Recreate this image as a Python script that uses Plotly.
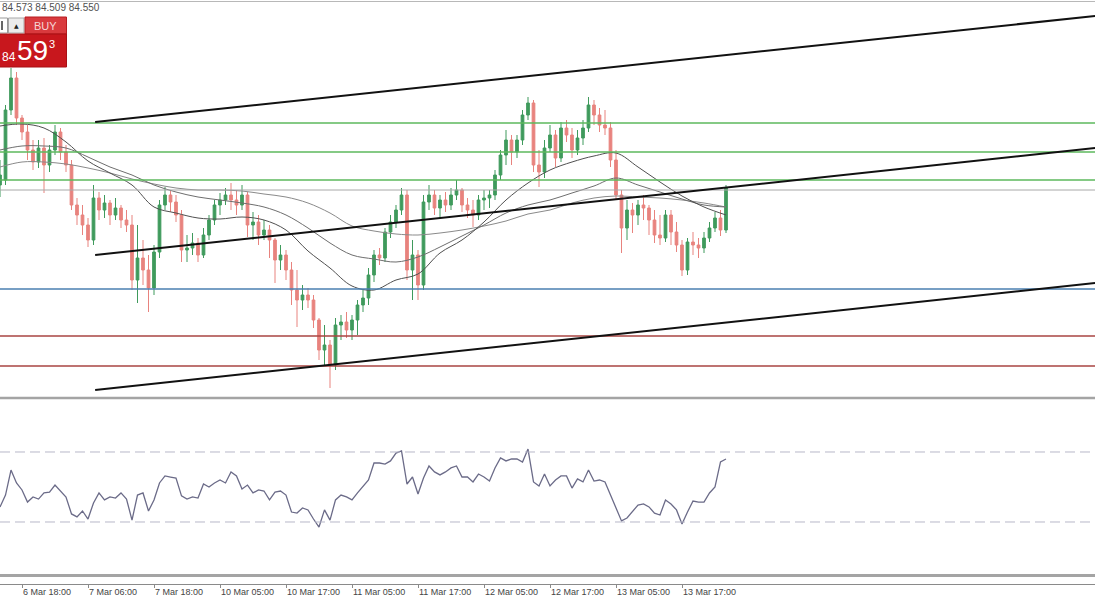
import plotly.graph_objects as go

# ---------------- data ----------------
bars = list(range(133))

opens = [84.60, 84.65, 85.35, 85.67, 85.27, 85.13, 84.95, 84.83, 84.97, 84.80,
         84.95, 85.13, 84.93, 84.80, 84.40, 84.30, 84.20, 84.05, 84.47, 84.35,
         84.42, 84.30, 84.37, 84.25, 84.20, 83.65, 83.87, 83.75, 83.57, 83.93,
         84.40, 84.50, 84.43, 84.30, 83.95, 83.97, 84.02, 83.90, 84.10, 84.25,
         84.40, 84.45, 84.50, 84.45, 84.40, 84.50, 84.20, 84.23, 84.10, 84.15,
         84.05, 83.85, 83.90, 83.75, 83.55, 83.45, 83.50, 83.45, 83.25, 82.95,
         83.00, 82.80, 83.20, 83.23, 83.15, 83.25, 83.40, 83.47, 83.70, 83.90,
         83.87, 84.13, 84.23, 84.35, 84.50, 83.75, 83.90, 83.60, 84.43, 84.50,
         84.37, 84.45, 84.40, 84.50, 84.55, 84.40, 84.35, 84.30, 84.45, 84.47,
         84.50, 84.70, 84.90, 85.05, 84.93, 85.05, 85.30, 85.42, 84.80, 84.73,
         84.97, 85.10, 84.87, 85.17, 85.10, 84.95, 85.07, 85.17, 85.40, 85.30,
         85.20, 85.17, 84.85, 84.50, 84.17, 84.35, 84.30, 84.40, 84.37, 84.25,
         84.10, 84.07, 84.30, 84.13, 84.00, 83.75, 84.03, 84.00, 83.97, 84.07,
         84.17, 84.27, 84.15]
highs = [84.85, 85.40, 85.77, 85.73, 85.30, 85.20, 85.05, 85.05, 85.07, 85.00,
         85.20, 85.17, 85.00, 84.85, 84.47, 84.40, 84.27, 84.60, 84.53, 84.50,
         84.45, 84.47, 84.40, 84.35, 84.30, 84.20, 84.05, 83.90, 84.00, 84.45,
         84.58, 84.55, 84.50, 84.35, 84.10, 84.12, 84.07, 84.17, 84.30, 84.45,
         84.52, 84.57, 84.62, 84.55, 84.60, 84.53, 84.33, 84.30, 84.25, 84.20,
         84.07, 84.00, 83.95, 83.83, 83.75, 83.60, 83.57, 83.50, 83.27, 83.20,
         83.05, 83.27, 83.30, 83.33, 83.30, 83.45, 83.55, 83.77, 83.95, 83.97,
         84.17, 84.30, 84.40, 84.57, 84.55, 84.05, 83.95, 84.50, 84.60, 84.55,
         84.50, 84.53, 84.57, 84.65, 84.57, 84.47, 84.45, 84.50, 84.55, 84.55,
         84.75, 84.95, 85.15, 85.10, 85.10, 85.35, 85.48, 85.45, 84.95, 85.05,
         85.20, 85.15, 85.23, 85.25, 85.17, 85.15, 85.25, 85.48, 85.45, 85.37,
         85.35, 85.23, 84.95, 84.55, 84.45, 84.42, 84.45, 84.50, 84.40, 84.35,
         84.30, 84.35, 84.35, 84.23, 84.05, 84.07, 84.13, 84.07, 84.13, 84.23,
         84.33, 84.35, 84.60]
lows = [84.48, 84.60, 85.30, 85.20, 85.05, 84.85, 84.75, 84.77, 84.52, 84.73,
        84.90, 84.85, 84.73, 84.35, 84.20, 84.10, 83.98, 84.00, 84.25, 84.27,
        84.20, 84.25, 84.17, 84.13, 83.55, 83.42, 83.60, 83.33, 83.50, 83.87,
        84.35, 84.33, 84.23, 83.83, 83.83, 83.90, 83.83, 83.87, 84.05, 84.20,
        84.30, 84.40, 84.35, 84.30, 84.35, 84.08, 84.05, 84.00, 84.05, 83.87,
        83.62, 83.75, 83.65, 83.40, 83.18, 83.35, 83.37, 83.17, 82.85, 82.80,
        82.57, 82.75, 83.05, 83.07, 83.05, 83.10, 83.33, 83.40, 83.63, 83.80,
        83.83, 84.07, 84.17, 84.30, 83.65, 83.45, 83.45, 83.55, 84.35, 84.30,
        84.27, 84.33, 84.35, 84.45, 84.33, 84.27, 84.18, 84.25, 84.35, 84.37,
        84.45, 84.65, 84.80, 84.80, 84.87, 85.00, 85.25, 84.73, 84.58, 84.67,
        84.93, 84.78, 84.83, 85.03, 84.87, 84.90, 85.00, 85.13, 85.20, 85.13,
        85.10, 84.78, 84.45, 83.92, 84.05, 84.12, 84.20, 84.25, 84.10, 84.02,
        84.00, 84.03, 84.00, 83.93, 83.69, 83.70, 83.90, 83.87, 83.92, 84.03,
        84.13, 84.09, 84.12]
closes = [84.70, 85.35, 85.67, 85.27, 85.13, 84.95, 84.83, 84.97, 84.80, 84.95,
          85.13, 84.93, 84.80, 84.40, 84.30, 84.20, 84.05, 84.47, 84.35, 84.42,
          84.30, 84.37, 84.25, 84.20, 83.65, 83.87, 83.75, 83.57, 83.93, 84.40,
          84.50, 84.43, 84.30, 83.95, 83.97, 84.02, 83.90, 84.10, 84.25, 84.40,
          84.45, 84.50, 84.45, 84.40, 84.50, 84.20, 84.23, 84.10, 84.15, 84.05,
          83.85, 83.90, 83.75, 83.55, 83.45, 83.50, 83.45, 83.25, 82.95, 83.00,
          82.80, 83.20, 83.23, 83.15, 83.25, 83.40, 83.47, 83.70, 83.90, 83.87,
          84.13, 84.23, 84.35, 84.50, 83.75, 83.90, 83.60, 84.43, 84.50, 84.37,
          84.45, 84.40, 84.50, 84.55, 84.40, 84.35, 84.30, 84.45, 84.47, 84.50,
          84.70, 84.90, 85.05, 84.93, 85.05, 85.30, 85.42, 84.80, 84.73, 84.97,
          85.10, 84.87, 85.17, 85.10, 84.95, 85.07, 85.17, 85.40, 85.30, 85.20,
          85.17, 84.85, 84.50, 84.17, 84.35, 84.30, 84.40, 84.37, 84.25, 84.10,
          84.07, 84.30, 84.13, 84.00, 83.75, 84.03, 84.00, 83.97, 84.07, 84.17,
          84.27, 84.15, 84.57]

ma_bars = list(range(0, 133, 4))
ma_fast = [85.19, 85.21, 85.17, 85.03, 84.84, 84.72, 84.60, 84.38, 84.32, 84.27,
           84.26, 84.28, 84.25, 84.15, 83.94, 83.77, 83.59, 83.55, 83.65, 83.71,
           83.92, 84.05, 84.23, 84.45, 84.62, 84.75, 84.83, 84.89, 84.92, 84.78,
           84.63, 84.49, 84.38, 84.30]
ma_mid = [84.95, 84.99, 84.99, 84.97, 84.88, 84.78, 84.70, 84.60, 84.53, 84.48,
          84.45, 84.42, 84.38, 84.30, 84.17, 84.02, 83.90, 83.86, 83.83, 83.88,
          83.98, 84.09, 84.20, 84.32, 84.40, 84.45, 84.52, 84.59, 84.67, 84.60,
          84.53, 84.46, 84.40, 84.38]
ma_slow = [84.78, 84.83, 84.83, 84.81, 84.77, 84.72, 84.66, 84.61, 84.57, 84.55,
           84.55, 84.54, 84.51, 84.48, 84.42, 84.32, 84.19, 84.14, 84.11, 84.10,
           84.12, 84.15, 84.19, 84.24, 84.31, 84.35, 84.42, 84.47, 84.49, 84.48,
           84.47, 84.45, 84.42, 84.38]

rsi = [38.6, 45.4, 59.7, 52.3, 48.3, 41.4, 44.3, 43.1, 46.6, 47.1,
       51.1, 47.7, 44.3, 34.6, 32.9, 36.3, 31.7, 40.9, 46.6, 42.6,
       44.3, 43.7, 46.6, 43.1, 31.1, 45.4, 46.6, 36.3, 42.6, 52.3,
       56.3, 55.7, 55.1, 44.9, 43.1, 44.3, 43.7, 51.7, 50.0, 52.3,
       54.0, 52.3, 58.6, 56.3, 48.9, 51.1, 46.6, 48.3, 47.7, 42.6,
       47.1, 47.7, 45.4, 35.7, 35.1, 38.0, 36.9, 31.7, 27.1, 36.9,
       31.1, 42.6, 45.4, 44.3, 42.6, 46.6, 50.0, 54.0, 63.7, 63.7,
       63.1, 64.9, 69.4, 70.6, 51.7, 55.7, 46.0, 55.1, 62.0, 58.6,
       56.9, 58.6, 60.9, 62.0, 55.7, 55.7, 52.9, 57.4, 55.7, 53.4,
       60.9, 66.6, 64.9, 66.0, 66.0, 64.3, 71.7, 52.9, 50.6, 57.4,
       50.6, 54.0, 56.3, 56.3, 49.4, 54.6, 52.9, 59.7, 53.4, 54.0,
       52.9, 45.4, 38.0, 30.6, 32.3, 35.7, 39.7, 40.3, 38.6, 35.1,
       34.0, 42.6, 40.3, 36.9, 28.9, 35.7, 42.0, 41.4, 41.4, 46.6,
       50.0, 64.3, 66.0]
rsi_levels = [70, 30]

green_levels = [85.22, 84.93, 84.65]
grey_levels = [84.55]
blue_levels = [83.56]
red_levels = [83.09, 82.79]

# trendlines: (start bar, start price, end bar, end price)
trend_start_bar = 17.3
trend_end_bar = 199.1
trend_start = [85.23, 83.90, 82.55]
trend_end = [86.29, 84.97, 83.62]

tick_bars = [4, 16, 28, 40, 52, 64, 76, 88, 100, 112, 124]
tick_labels = ["6 Mar 18:00", "7 Mar 06:00", "7 Mar 18:00", "10 Mar 05:00",
               "10 Mar 17:00", "11 Mar 05:00", "11 Mar 17:00", "12 Mar 05:00",
               "12 Mar 17:00", "13 Mar 05:00", "13 Mar 17:00"]

header_text = "84.573 84.509 84.550"

# ---------------- figure ----------------
W, H = 1095, 600
def px(x):
    return x / W
def py(y):
    return 1 - y / H

fig = go.Figure()

fig.add_trace(go.Candlestick(
    x=bars, open=opens, high=highs, low=lows, close=closes,
    increasing=dict(line=dict(color="#3f9a5c", width=1), fillcolor="#3f9a5c"),
    decreasing=dict(line=dict(color="#e8837e", width=1), fillcolor="#e8837e"),
    whiskerwidth=0, xaxis="x", yaxis="y", showlegend=False, hoverinfo="skip"))

for vals, col in [(ma_slow, "#8a8a8a"), (ma_mid, "#6e6e6e"), (ma_fast, "#505050")]:
    fig.add_trace(go.Scatter(x=ma_bars, y=vals, mode="lines",
                             line=dict(color=col, width=1, shape="spline"),
                             xaxis="x", yaxis="y", showlegend=False, hoverinfo="skip"))

fig.add_trace(go.Scatter(x=bars, y=rsi, mode="lines",
                         line=dict(color="#6b6b88", width=1.3),
                         xaxis="x", yaxis="y2", showlegend=False, hoverinfo="skip"))

shapes = []
for lv in green_levels:
    shapes.append(dict(type="line", xref="paper", yref="y", x0=0, x1=1, y0=lv, y1=lv,
                       line=dict(color="#5cb85c", width=1.3)))
for lv in grey_levels:
    shapes.append(dict(type="line", xref="paper", yref="y", x0=0, x1=1, y0=lv, y1=lv,
                       line=dict(color="#a8a8a8", width=1)))
for lv in blue_levels:
    shapes.append(dict(type="line", xref="paper", yref="y", x0=0, x1=1, y0=lv, y1=lv,
                       line=dict(color="#4a7fb0", width=1.5)))
for lv in red_levels:
    shapes.append(dict(type="line", xref="paper", yref="y", x0=0, x1=1, y0=lv, y1=lv,
                       line=dict(color="#a94442", width=1.3)))
for s, e in zip(trend_start, trend_end):
    shapes.append(dict(type="line", xref="x", yref="y", x0=trend_start_bar, x1=trend_end_bar,
                       y0=s, y1=e, line=dict(color="#111111", width=2)))
for lv in rsi_levels:
    shapes.append(dict(type="line", xref="paper", yref="y2", x0=0, x1=1, y0=lv, y1=lv,
                       line=dict(color="#b8b8c8", width=1, dash="10px,5px")))

# frame lines
shapes.append(dict(type="line", xref="paper", yref="paper", x0=0, x1=1, y0=py(1.5), y1=py(1.5),
                   line=dict(color="#b8b8b8", width=1)))
shapes.append(dict(type="line", xref="paper", yref="paper", x0=0, x1=1, y0=py(398), y1=py(398),
                   line=dict(color="#a4a4a4", width=2.5)))
shapes.append(dict(type="line", xref="paper", yref="paper", x0=0, x1=1, y0=py(575.5), y1=py(575.5),
                   line=dict(color="#a4a4a4", width=3)))

# one-click trading widget
shapes.append(dict(type="rect", xref="paper", yref="paper", x0=px(-2), x1=px(7.5), y0=py(33), y1=py(18),
                   fillcolor="#ffffff", line=dict(color="#9a9a9a", width=1)))
shapes.append(dict(type="line", xref="paper", yref="paper", x0=px(2), x1=px(2), y0=py(30), y1=py(21),
                   line=dict(color="#333333", width=1.5)))
shapes.append(dict(type="rect", xref="paper", yref="paper", x0=px(8.5), x1=px(24), y0=py(33), y1=py(18),
                   fillcolor="#ececec", line=dict(color="#a8a8a8", width=1)))
shapes.append(dict(type="rect", xref="paper", yref="paper", x0=px(25), x1=px(66.5), y0=py(34), y1=py(17),
                   fillcolor="#d93a3e", line=dict(color="#b81c20", width=1)))
shapes.append(dict(type="rect", xref="paper", yref="paper", x0=px(-1), x1=px(66.5), y0=py(67), y1=py(34),
                   fillcolor="#c8171d", line=dict(color="#a81015", width=1)))

annotations = [
    dict(xref="paper", yref="paper", x=0, y=py(8), text=header_text, showarrow=False,
         xanchor="left", yanchor="middle", xshift=0,
         font=dict(family="Liberation Sans", size=10, color="#505050")),
    dict(xref="paper", yref="paper", x=px(16.2), y=py(25.5), text="▲", showarrow=False,
         xanchor="center", yanchor="middle", font=dict(family="DejaVu Sans", size=6, color="#222222")),
    dict(xref="paper", yref="paper", x=px(45.5), y=py(26), text="BUY", showarrow=False,
         xanchor="center", yanchor="middle", font=dict(family="Liberation Sans", size=11, color="#f6d6d6")),
    dict(xref="paper", yref="paper", x=px(8.5), y=py(57), text="84", showarrow=False,
         xanchor="center", yanchor="middle", font=dict(family="Liberation Sans", size=12, color="#ffffff")),
    dict(xref="paper", yref="paper", x=px(32.5), y=py(51), text="59", showarrow=False,
         xanchor="center", yanchor="middle", font=dict(family="Liberation Sans", size=28, color="#ffffff")),
    dict(xref="paper", yref="paper", x=px(51.5), y=py(44), text="3", showarrow=False,
         xanchor="center", yanchor="middle", font=dict(family="Liberation Sans", size=11, color="#ffffff")),
]

fig.update_layout(
    width=W, height=H,
    margin=dict(l=0, r=0, t=0, b=0),
    paper_bgcolor="#ffffff", plot_bgcolor="#ffffff",
    showlegend=False,
    shapes=shapes,
    annotations=annotations,
    xaxis=dict(domain=[0, 1], range=[0, W / 5.5], anchor="free", position=py(583.5),
               showgrid=False, zeroline=False, rangeslider=dict(visible=False),
               showline=True, linecolor="#8a8a8a", linewidth=1,
               ticks="outside", ticklen=3, tickcolor="#8a8a8a",
               tickmode="array", tickvals=tick_bars, ticktext=tick_labels,
               ticklabelposition="outside right",
               tickfont=dict(family="Liberation Sans", size=9, color="#444444")),
    yaxis=dict(domain=[py(397), 1], range=[86.45 - 3.97, 86.45], visible=False, fixedrange=True),
    yaxis2=dict(domain=[py(575), py(400)], range=[-0.29, 99.71], visible=False, fixedrange=True),
)

fig.write_html("out.html", config={"displayModeBar": False},
               post_script="document.body.style.margin='0';document.body.style.overflow='hidden';")
